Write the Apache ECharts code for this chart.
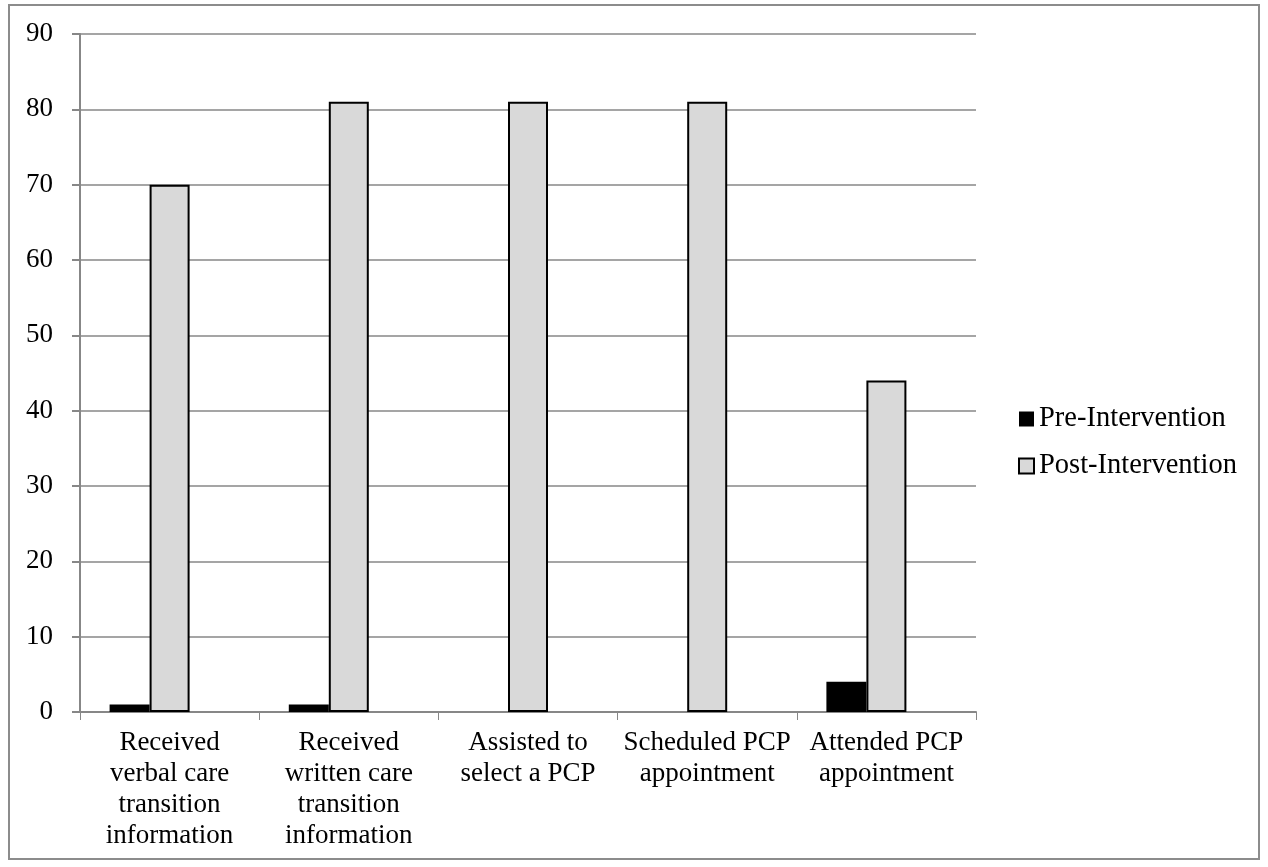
<!DOCTYPE html>
<html><head><meta charset="utf-8">
<script src="https://cdn.jsdelivr.net/npm/echarts@6/dist/echarts.min.js"></script>
<style>html,body{margin:0;padding:0;background:#fff}#c{width:1268px;height:867px}</style>
</head><body><div id="c"></div>
<script>
const categories = ["Received\nverbal care\ntransition\ninformation","Received\nwritten care\ntransition\ninformation","Assisted to\nselect a PCP","Scheduled PCP\nappointment","Attended PCP\nappointment"];
const preValues = [1, 1, 0, 0, 4];
const postValues = [70, 81, 81, 81, 44];
const emptySlot = [null, null, null, null, null];
const yTicks = {min: 0, max: 90, interval: 10};
const FONT = "'Liberation Serif','DejaVu Serif',serif";
const chart = echarts.init(document.getElementById('c'));
chart.setOption({
  animation: false,
  textStyle: {fontFamily: FONT},
  graphic: [{type:'rect', shape:{x:9,y:5,width:1250,height:854}, style:{fill:'none', stroke:'#8c8c8c', lineWidth:2}}],
  grid: {left: 80, top: 34, right: 292, bottom: 155, containLabel: false},
  legend: {
    orient: 'vertical', left: 1013, top: 399, itemWidth: 15, itemHeight: 15, itemGap: 17,
    icon: 'rect',
    data: ['Pre-Intervention','Post-Intervention'],
    textStyle: {fontFamily: FONT, fontSize: 28.5, lineHeight: 30, color: '#000'}
  },
  xAxis: {
    type: 'category', data: categories,
    axisLine: {lineStyle: {color: '#878787', width: 2}},
    axisTick: {show: true, length: 8, lineStyle: {color: '#878787', width: 1}},
    axisLabel: {interval: 0, margin: 15, color: '#000', fontSize: 27, lineHeight: 31, fontFamily: FONT}
  },
  yAxis: {
    type: 'value', min: yTicks.min, max: yTicks.max, interval: yTicks.interval,
    axisLine: {show: true, lineStyle: {color: '#878787', width: 2}},
    axisTick: {show: true, length: 8, lineStyle: {color: '#878787', width: 2}},
    splitLine: {lineStyle: {color: '#878787', width: 1.5}},
    axisLabel: {margin: 27, color: '#000', fontSize: 27, fontFamily: FONT}
  },
  series: [
    {name: 'Pre-Intervention', type: 'bar', data: preValues, barWidth: 40, barGap: '0%',
     itemStyle: {color: '#000', borderColor: '#000', borderWidth: 0}},
    {name: 'Post-Intervention', type: 'bar', data: postValues, barWidth: 40,
     itemStyle: {color: '#d9d9d9', borderColor: '#000', borderWidth: 2}},
    {name: 'hidden', type: 'bar', data: emptySlot, barWidth: 40}
  ]
});
</script></body></html>
